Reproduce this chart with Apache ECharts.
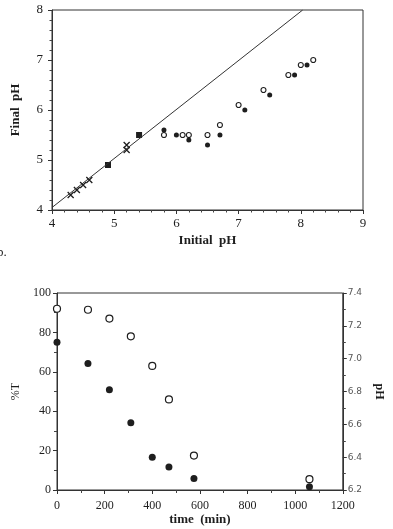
<!DOCTYPE html>
<html>
<head>
<meta charset="utf-8">
<script src="https://cdn.jsdelivr.net/npm/echarts@6/dist/echarts.min.js"></script>
<style>
  html, body { margin: 0; padding: 0; background: #fff; }
  #chart { width: 393px; height: 529px; }
</style>
</head>
<body>
<div id="chart"></div>
<script>
// panel b (top): initial vs final pH
const crossPts = [[4.3, 4.3], [4.4, 4.4], [4.5, 4.5], [4.6, 4.6], [5.2, 5.3], [5.2, 5.2]];
const squarePts = [[4.9, 4.9], [5.4, 5.5]];
const openPts = [[5.8, 5.5], [6.1, 5.5], [6.2, 5.5], [6.5, 5.5], [6.7, 5.7], [7.0, 6.1], [7.4, 6.4], [7.8, 6.7], [8.0, 6.9], [8.2, 7.0]];
const filledPts = [[5.8, 5.6], [6.0, 5.5], [6.2, 5.4], [6.5, 5.3], [6.7, 5.5], [7.1, 6.0], [7.5, 6.3], [7.9, 6.7], [8.1, 6.9]];
const refLine = [[4, 4.05], [8.03, 8]];

// bottom panel: %T and pH vs time
const times = [0, 130, 220, 310, 400, 470, 575, 1060];
const pctT = [92, 91.5, 87, 78, 63, 46, 17.5, 5.5];
const phVals = [7.10, 6.97, 6.81, 6.61, 6.40, 6.34, 6.27, 6.22];

const serif = 'Liberation Serif';
const ink = '#1e1e1e';

const chart = echarts.init(document.getElementById('chart'));

const baseAxis = {
  axisLine: { show: true, lineStyle: { color: '#333', width: 1 } },
  axisTick: { show: true, length: 4, lineStyle: { color: '#333' } },
  minorTick: { show: true, length: 2.5, lineStyle: { color: '#444' } },
  splitLine: { show: false },
  axisLabel: { color: ink, fontFamily: serif, fontSize: 13 },
  nameTextStyle: { color: ink, fontFamily: serif, fontSize: 13, fontWeight: 'bold' },
  nameLocation: 'middle'
};

const option = {
  backgroundColor: '#fff',
  animation: false,
  grid: [
    { left: 52, top: 10, width: 311, height: 200, show: true, borderColor: '#333', borderWidth: 1 },
    { left: 57, top: 293, width: 303, height: 197, show: true, borderColor: '#333', borderWidth: 1 }
  ],
  xAxis: [
    Object.assign({}, baseAxis, {
      gridIndex: 0, type: 'value', min: 4, max: 9, interval: 1,
      minorTick: Object.assign({}, baseAxis.minorTick, { splitNumber: 5 }),
      name: 'Initial  pH', nameGap: 24,
      axisLabel: Object.assign({}, baseAxis.axisLabel, { margin: 7 })
    }),
    Object.assign({}, baseAxis, {
      gridIndex: 1, type: 'value', min: 0, max: 1200, interval: 200,
      minorTick: Object.assign({}, baseAxis.minorTick, { splitNumber: 2, length: 3 }),
      name: 'time  (min)', nameGap: 21,
      axisLabel: Object.assign({}, baseAxis.axisLabel, { fontSize: 12, margin: 10, formatter: v => String(v) })
    })
  ],
  yAxis: [
    Object.assign({}, baseAxis, {
      gridIndex: 0, type: 'value', min: 4, max: 8, interval: 1,
      minorTick: Object.assign({}, baseAxis.minorTick, { splitNumber: 5 }),
      name: 'Final  pH', nameGap: 30,
      axisLabel: Object.assign({}, baseAxis.axisLabel, { margin: 9 })
    }),
    Object.assign({}, baseAxis, {
      gridIndex: 1, type: 'value', min: 0, max: 100, interval: 20,
      minorTick: Object.assign({}, baseAxis.minorTick, { splitNumber: 2, length: 3 }),
      name: '%T', nameGap: 26,
      nameTextStyle: Object.assign({}, baseAxis.nameTextStyle, { fontWeight: 'normal', fontSize: 12 }),
      axisLabel: Object.assign({}, baseAxis.axisLabel, { fontSize: 12, margin: 6 })
    }),
    Object.assign({}, baseAxis, {
      gridIndex: 1, type: 'value', position: 'right', min: 6.2, max: 7.4, interval: 0.2,
      minorTick: Object.assign({}, baseAxis.minorTick, { splitNumber: 2, length: 3 }),
      name: 'pH', nameGap: 29, nameRotate: -90,
      nameTextStyle: Object.assign({}, baseAxis.nameTextStyle, { fontSize: 12 }),
      axisLabel: { color: '#555', fontFamily: 'DejaVu Sans', fontSize: 9, margin: 5,
        formatter: v => v.toFixed(1) }
    })
  ],
  graphic: [
    { type: 'text', left: -3, top: 246, style: { text: 'b.', font: '13px "Liberation Serif"', fill: ink } }
  ],
  series: [
    {
      type: 'line', xAxisIndex: 0, yAxisIndex: 0, data: refLine,
      showSymbol: false, lineStyle: { color: '#333', width: 1 }, silent: true
    },
    {
      type: 'scatter', xAxisIndex: 0, yAxisIndex: 0, data: crossPts,
      symbol: 'path://M0,0L10,10M10,0L0,10', symbolSize: 6,
      itemStyle: { color: 'none', borderColor: ink, borderWidth: 1.3, opacity: 1 }
    },
    {
      type: 'scatter', xAxisIndex: 0, yAxisIndex: 0, data: squarePts,
      symbol: 'rect', symbolSize: 6, itemStyle: { color: ink, opacity: 1 }
    },
    {
      type: 'scatter', xAxisIndex: 0, yAxisIndex: 0, data: openPts,
      symbol: 'circle', symbolSize: 5,
      itemStyle: { color: '#fff', borderColor: ink, borderWidth: 1.1, opacity: 1 }
    },
    {
      type: 'scatter', xAxisIndex: 0, yAxisIndex: 0, data: filledPts,
      symbol: 'circle', symbolSize: 5, itemStyle: { color: ink, opacity: 1 }
    },
    {
      type: 'scatter', xAxisIndex: 1, yAxisIndex: 1,
      data: times.map((t, i) => [t, pctT[i]]),
      symbol: 'circle', symbolSize: 7,
      itemStyle: { color: '#fff', borderColor: ink, borderWidth: 1.2, opacity: 1 }
    },
    {
      type: 'scatter', xAxisIndex: 1, yAxisIndex: 2,
      data: times.map((t, i) => [t, phVals[i]]),
      symbol: 'circle', symbolSize: 7, itemStyle: { color: ink, opacity: 1 }
    }
  ]
};

chart.setOption(option);
</script>
</body>
</html>
